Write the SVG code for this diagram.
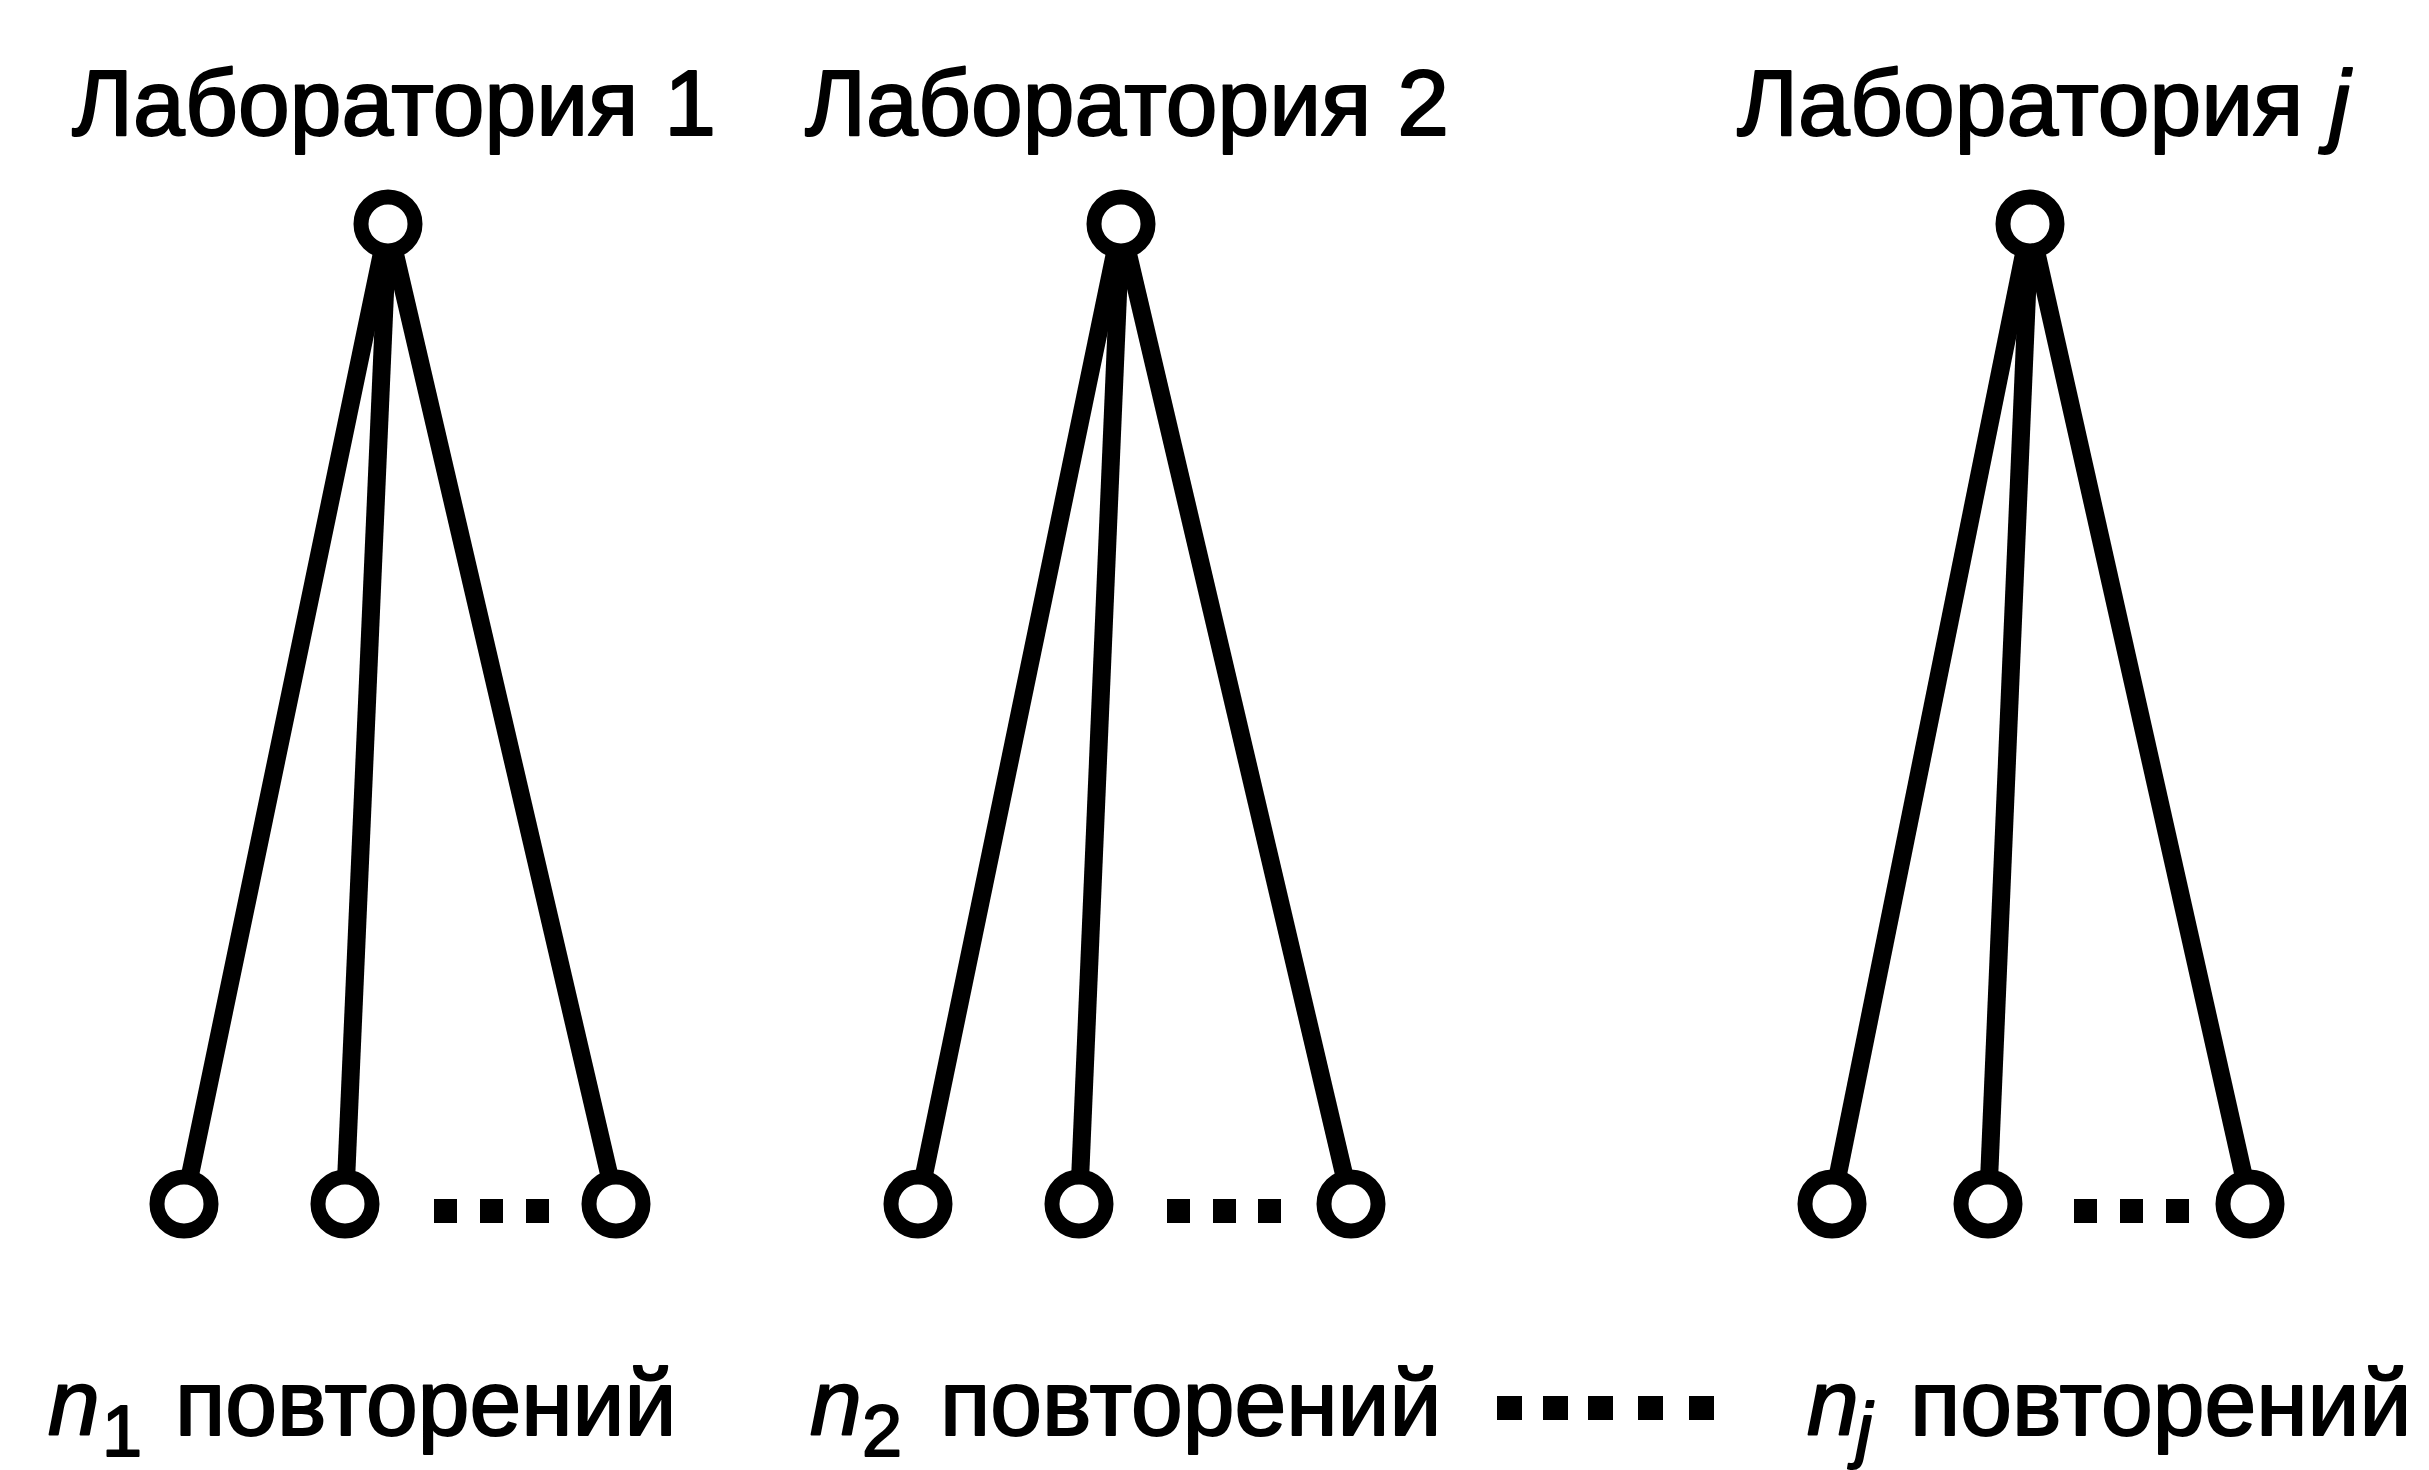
<svg xmlns="http://www.w3.org/2000/svg" width="2429" height="1470" viewBox="0 0 2429 1470">
<style>
  .t { font-family: "Liberation Sans", Arial, Helvetica, sans-serif; font-size: 93px; fill: #000; stroke: #000; stroke-width: 2; stroke-linejoin: round; }
  .i { font-style: italic; }
  .sub { font-size: 72px; }
  .edge { stroke: #000; stroke-width: 18; fill: none; stroke-linecap: butt; }
  .node { fill: #fff; stroke: #000; stroke-width: 15; }
  .dot { fill: #000; }
</style>
<rect width="2429" height="1470" fill="#fff"/>
<g id="connectors">
  <line class="edge" x1="388" y1="224" x2="184" y2="1204"/>
  <line class="edge" x1="388" y1="224" x2="345" y2="1204"/>
  <line class="edge" x1="388" y1="224" x2="616" y2="1204"/>
  <line class="edge" x1="1121" y1="224" x2="918" y2="1204"/>
  <line class="edge" x1="1121" y1="224" x2="1079" y2="1204"/>
  <line class="edge" x1="1121" y1="224" x2="1351" y2="1204"/>
  <line class="edge" x1="2030" y1="224" x2="1832" y2="1204"/>
  <line class="edge" x1="2030" y1="224" x2="1988" y2="1204"/>
  <line class="edge" x1="2030" y1="224" x2="2250" y2="1204"/>
</g>
<g id="lab1">
  <text class="t" x="72" y="135">Лаборатория 1</text>
  <circle class="node" cx="388" cy="224" r="27"/>
</g>
<g id="lab2">
  <text class="t" x="805" y="135">Лаборатория 2</text>
  <circle class="node" cx="1121" cy="224" r="27"/>
</g>
<g id="labj">
  <text class="t" x="1737" y="135">Лаборатория <tspan class="i">j</tspan></text>
  <circle class="node" cx="2030" cy="224" r="27"/>
</g>
<g id="rep1">
  <circle class="node" cx="184" cy="1204" r="27"/>
  <circle class="node" cx="345" cy="1204" r="27"/>
  <circle class="node" cx="616" cy="1204" r="27"/>
  <rect class="dot" x="434" y="1199" width="23" height="24"/>
  <rect class="dot" x="480" y="1199" width="23" height="24"/>
  <rect class="dot" x="526" y="1199" width="23" height="24"/>
  <text class="t" x="48" y="1435"><tspan class="i">n</tspan><tspan class="sub" x="102" y="1456">1</tspan><tspan x="175" y="1435">повторений</tspan></text>
</g>
<g id="rep2">
  <circle class="node" cx="918" cy="1204" r="27"/>
  <circle class="node" cx="1079" cy="1204" r="27"/>
  <circle class="node" cx="1351" cy="1204" r="27"/>
  <rect class="dot" x="1167" y="1199" width="23" height="24"/>
  <rect class="dot" x="1213" y="1199" width="23" height="24"/>
  <rect class="dot" x="1258" y="1199" width="23" height="24"/>
  <text class="t" x="810" y="1435"><tspan class="i">n</tspan><tspan class="sub" x="862" y="1456">2</tspan><tspan x="940" y="1435">повторений</tspan></text>
</g>
<g id="repj">
  <circle class="node" cx="1832" cy="1204" r="27"/>
  <circle class="node" cx="1988" cy="1204" r="27"/>
  <circle class="node" cx="2250" cy="1204" r="27"/>
  <rect class="dot" x="2074" y="1199" width="23" height="24"/>
  <rect class="dot" x="2120" y="1199" width="23" height="24"/>
  <rect class="dot" x="2166" y="1199" width="23" height="24"/>
  <text class="t" x="1807" y="1435"><tspan class="i">n</tspan><tspan class="sub i" x="1856" y="1454">j</tspan><tspan x="1910" y="1435">повторений</tspan></text>
</g>
<g id="between">
  <rect class="dot" x="1497" y="1396" width="25" height="24"/>
  <rect class="dot" x="1543" y="1396" width="25" height="24"/>
  <rect class="dot" x="1588" y="1396" width="25" height="24"/>
  <rect class="dot" x="1638" y="1396" width="25" height="24"/>
  <rect class="dot" x="1689" y="1396" width="25" height="24"/>
</g>
</svg>
